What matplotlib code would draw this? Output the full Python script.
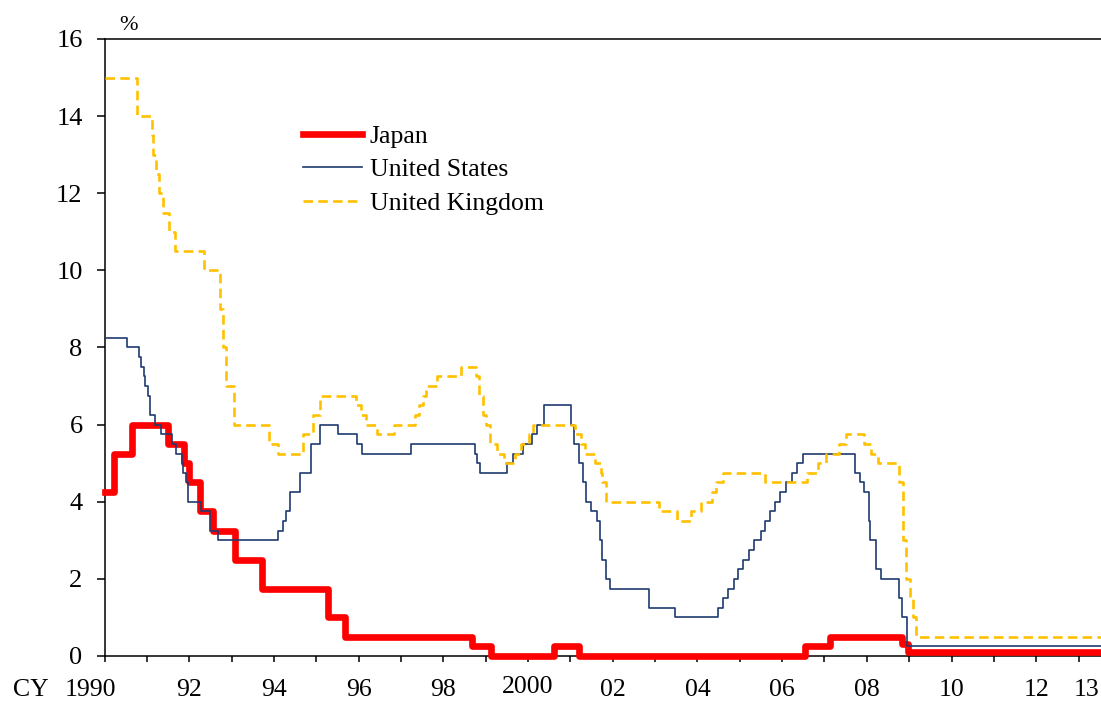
import matplotlib
matplotlib.use("Agg")
import matplotlib.pyplot as plt
import matplotlib.transforms as mtransforms
import numpy as np
from datetime import date

# ---------------- data (policy rate change dates and levels, %) ----------------
japan_dates = ["1990-01-01", "1990-03-20", "1990-08-30", "1991-07-01", "1991-11-14",
               "1991-12-30", "1992-04-01", "1992-07-27", "1993-02-04", "1993-09-21",
               "1995-04-14", "1995-09-08", "1998-09-09", "1999-02-12", "2000-08-11",
               "2001-03-19", "2006-07-14", "2007-02-21", "2008-10-31", "2008-12-19"]
japan_rates = [4.25, 5.25, 6.00, 5.50, 5.00,
               4.50, 3.75, 3.25, 2.50, 1.75,
               1.00, 0.50, 0.25, 0.00, 0.25,
               0.00, 0.25, 0.50, 0.30, 0.10]

us_dates = ["1990-01-01", "1990-07-13", "1990-10-29", "1990-11-14", "1990-12-07",
            "1990-12-19", "1991-01-09", "1991-02-01", "1991-03-08", "1991-04-30",
            "1991-08-06", "1991-09-13", "1991-10-31", "1991-11-06", "1991-12-06",
            "1991-12-20", "1992-04-09", "1992-07-02", "1992-09-04", "1994-02-04",
            "1994-03-22", "1994-04-18", "1994-05-17", "1994-08-16", "1994-11-15",
            "1995-02-01", "1995-07-06", "1995-12-19", "1996-01-31", "1997-03-25",
            "1998-09-29", "1998-10-15", "1998-11-17", "1999-06-30", "1999-08-24",
            "1999-11-16", "2000-02-02", "2000-03-21", "2000-05-16", "2001-01-03",
            "2001-01-31", "2001-03-20", "2001-04-18", "2001-05-15", "2001-06-27",
            "2001-08-21", "2001-09-17", "2001-10-02", "2001-11-06", "2001-12-11",
            "2002-11-06", "2003-06-25", "2004-06-30", "2004-08-10", "2004-09-21",
            "2004-11-10", "2004-12-14", "2005-02-02", "2005-03-22", "2005-05-03",
            "2005-06-30", "2005-08-09", "2005-09-20", "2005-11-01", "2005-12-13",
            "2006-01-31", "2006-03-28", "2006-05-10", "2006-06-29", "2007-09-18",
            "2007-10-31", "2007-12-11", "2008-01-22", "2008-01-30", "2008-03-18",
            "2008-04-30", "2008-10-08", "2008-10-29", "2008-12-16"]
us_rates = [8.25, 8.00, 7.75, 7.50, 7.25,
            7.00, 6.75, 6.25, 6.00, 5.75,
            5.50, 5.25, 5.00, 4.75, 4.50,
            4.00, 3.75, 3.25, 3.00, 3.25,
            3.50, 3.75, 4.25, 4.75, 5.50,
            6.00, 5.75, 5.50, 5.25, 5.50,
            5.25, 5.00, 4.75, 5.00, 5.25,
            5.50, 5.75, 6.00, 6.50, 6.00,
            5.50, 5.00, 4.50, 4.00, 3.75,
            3.50, 3.00, 2.50, 2.00, 1.75,
            1.25, 1.00, 1.25, 1.50, 1.75,
            2.00, 2.25, 2.50, 2.75, 3.00,
            3.25, 3.50, 3.75, 4.00, 4.25,
            4.50, 4.75, 5.00, 5.25, 4.75,
            4.50, 4.25, 3.50, 3.00, 2.25,
            2.00, 1.50, 1.00, 0.25]

uk_dates = ["1990-01-01", "1990-10-08", "1991-02-13", "1991-02-27", "1991-03-22",
            "1991-04-12", "1991-05-24", "1991-07-12", "1991-09-04", "1992-05-05",
            "1992-09-22", "1992-10-16", "1992-11-13", "1993-01-26", "1993-11-23",
            "1994-02-08", "1994-09-12", "1994-12-07", "1995-02-02", "1995-12-13",
            "1996-01-18", "1996-03-08", "1996-06-06", "1996-10-30", "1997-05-06",
            "1997-06-06", "1997-07-10", "1997-08-07", "1997-11-06", "1998-06-04",
            "1998-10-08", "1998-11-05", "1998-12-10", "1999-01-07", "1999-02-04",
            "1999-04-08", "1999-06-10", "1999-09-08", "1999-11-04", "2000-01-13",
            "2000-02-10", "2001-02-08", "2001-04-05", "2001-05-10", "2001-08-02",
            "2001-09-18", "2001-10-04", "2001-11-08", "2003-02-06", "2003-07-10",
            "2003-11-06", "2004-02-05", "2004-05-06", "2004-06-10", "2004-08-05",
            "2005-08-04", "2006-08-03", "2006-11-09", "2007-01-11", "2007-05-10",
            "2007-07-05", "2007-12-06", "2008-02-07", "2008-04-10", "2008-10-08",
            "2008-11-06", "2008-12-04", "2009-01-08", "2009-02-05", "2009-03-05"]
uk_rates = [15.00, 14.00, 13.50, 13.00, 12.50,
            12.00, 11.50, 11.00, 10.50, 10.00,
            9.00, 8.00, 7.00, 6.00, 5.50,
            5.25, 5.75, 6.25, 6.75, 6.50,
            6.25, 6.00, 5.75, 6.00, 6.25,
            6.50, 6.75, 7.00, 7.25, 7.50,
            7.25, 6.75, 6.25, 6.00, 5.50,
            5.25, 5.00, 5.25, 5.50, 5.75,
            6.00, 5.75, 5.50, 5.25, 5.00,
            4.75, 4.50, 4.00, 3.75, 3.50,
            3.75, 4.00, 4.25, 4.50, 4.75,
            4.50, 4.75, 5.00, 5.25, 5.50,
            5.75, 5.50, 5.25, 5.00, 4.50,
            3.00, 2.00, 1.50, 1.00, 0.50]

series_names = ["Japan", "United States", "United Kingdom"]
tick_years = list(range(1990, 2014))
tick_labels = ["1990", "", "92", "", "94", "", "96", "", "98", "", "2000", "",
               "02", "", "04", "", "06", "", "08", "", "10", "", "12", "13"]
y_ticks = [0, 2, 4, 6, 8, 10, 12, 14, 16]
x_end = 2013.53


def to_year(s):
    y, m, d = (int(v) for v in s.split("-"))
    start = date(y, 1, 1).toordinal()
    length = date(y + 1, 1, 1).toordinal() - start
    return y + (date(y, m, d).toordinal() - start) / length


def step_xy(dates, rates):
    x = [to_year(d) for d in dates] + [x_end]
    y = list(rates) + [rates[-1]]
    return np.array(x), np.array(y)


# ---------------- figure ----------------
plt.rcParams["font.family"] = ["Liberation Serif", "DejaVu Serif"]
W, H = 1101, 704
fig = plt.figure(figsize=(W / 100, H / 100), dpi=100)
ax = fig.add_axes([104.5 / W, 1 - 656 / H, 1 - 104.5 / W, (656 - 39) / H])

xj, yj = step_xy(japan_dates, japan_rates)
xu, yu = step_xy(us_dates, us_rates)
xk, yk = step_xy(uk_dates, uk_rates)

ax.step(xj, yj, where="post", color="#FF0000", lw=4.8, label=series_names[0],
        solid_joinstyle="round", zorder=3, clip_on=False)
ax.step(xu, yu, where="post", color="#1F3A70", lw=1.2, label=series_names[1], zorder=4)
ax.step(xk, yk, where="post", color="#FFC000", lw=1.9, label=series_names[2],
        dashes=(3.6, 2.0), zorder=5)

ax.set_xlim(1990, x_end)
ax.set_ylim(0, 16)
ax.set_xticks(tick_years)
ax.set_xticklabels(tick_labels)
ax.set_yticks(y_ticks)
ax.set_yticklabels([str(v) for v in y_ticks])

for s in ["left", "bottom", "top"]:
    ax.spines[s].set_linewidth(1.1)
    ax.spines[s].set_color("black")
ax.spines["right"].set_visible(False)

ax.tick_params(axis="y", direction="out", length=5.8, width=1.1, pad=10,
               labelsize=19, colors="black")
ax.tick_params(axis="x", direction="out", length=4.3, width=1.1, pad=12,
               labelsize=18.5, colors="black")

# small label offsets as in the reference
labels = ax.get_xticklabels()
offsets = {0: (-14, 0), 10: (0, 3), 23: (8, 0)}
for i, (dx, dy) in offsets.items():
    lab = labels[i]
    lab.set_transform(lab.get_transform() +
                      mtransforms.ScaledTranslation(dx / 100, dy / 100, fig.dpi_scale_trans))

fig.text(128 / W, 1 - 25 / H, "%", fontsize=16, ha="center", va="center")
fig.text(13 / W, 1 - 690 / H, "CY", fontsize=18.5, ha="left", va="center")

leg = ax.legend(loc="upper left", bbox_to_anchor=(303 / W, 1 - 125 / H),
                bbox_transform=fig.transFigure, frameon=False, fontsize=18.5,
                handlelength=2.3, handletextpad=0.3, labelspacing=0.4,
                borderpad=0, borderaxespad=0)

fig.savefig("out.png", dpi=100)
